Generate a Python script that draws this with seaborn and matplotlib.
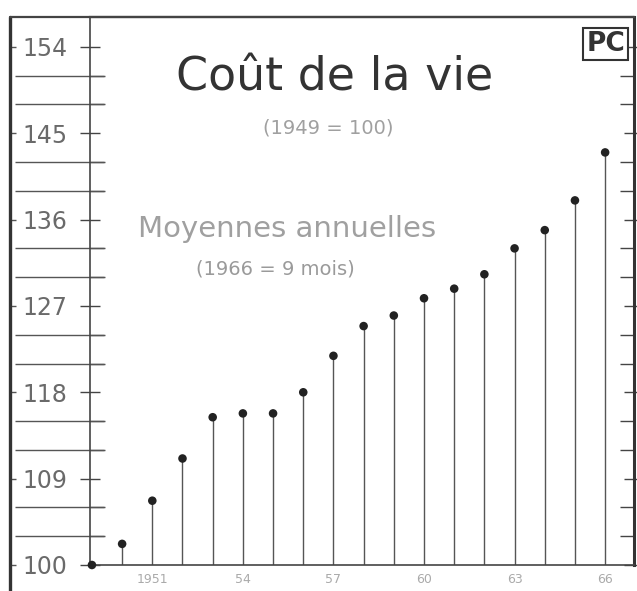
import numpy as np
import pandas as pd
import matplotlib.pyplot as plt
import seaborn as sns
from matplotlib.lines import Line2D

# data (1949 = 100)
years = list(range(1949, 1967))
values = [100, 102.2, 106.7, 111.1, 115.4, 115.8, 115.8, 118.0, 121.8,
          124.9, 126.0, 127.8, 128.8, 130.3, 133.0, 134.9, 138.0, 143.0]

y_major = [100, 109, 118, 127, 136, 145, 154]
y_minor = [v for v in range(100, 157, 3) if v not in y_major]
x_ticks = [1951, 1954, 1957, 1960, 1963, 1966]
x_labels = ["1951", "54", "57", "60", "63", "66"]

df = pd.DataFrame({"annee": years, "indice": values})

sns.set_theme(style="white")
plt.rcParams["font.family"] = ["DejaVu Sans"]

fig = plt.figure(figsize=(6.37, 5.91), dpi=100)
fig.patch.set_facecolor("white")
ax = fig.add_axes([0.141, 0.044, 0.854, 0.927])

# stems + dots
ax.vlines(df["annee"], 100, df["indice"], color="#555555", linewidth=1.0, zorder=2)
sns.scatterplot(data=df, x="annee", y="indice", color="#222222", s=38,
                edgecolor="none", ax=ax, zorder=4, legend=False, clip_on=False)

ax.set_xlim(1948.93, 1966.95)
ax.set_ylim(100, 157.1)

# axes look
for side in ["left", "bottom"]:
    ax.spines[side].set_color("#444444")
    ax.spines[side].set_linewidth(1.2)
ax.spines["right"].set_color("#333333")
ax.spines["right"].set_linewidth(2.2)
ax.spines["top"].set_color("#444444")
ax.spines["top"].set_linewidth(1.6)

ax.set_yticks(y_major)
ax.set_yticks(y_minor, minor=True)
ax.set_yticklabels([str(v) for v in y_major], fontsize=17, color="#6a6a6a")
ax.tick_params(axis="y", which="major", direction="inout", length=14, width=1,
               color="#444444", pad=9, left=True, right=True)
ax.tick_params(axis="y", which="minor", direction="in", length=10, width=1,
               color="#444444", left=True, right=True)

ax.set_xticks(x_ticks)
ax.set_xticklabels(x_labels, fontsize=9, color="#aaaaaa")
ax.tick_params(axis="x", which="major", length=0, pad=6)
ax.set_xlabel("")
ax.set_ylabel("")

# long minor marks across the left label panel
trans = ax.get_yaxis_transform()
ax.hlines(y_minor, -0.138, 0.028, transform=trans, color="#555555",
          linewidth=1.0, clip_on=False)
ax.hlines(y_major, -0.147, -0.136, transform=trans, color="#555555",
          linewidth=1.0, clip_on=False)

# outer frame of the left panel
fig.add_artist(Line2D([0.0157, 0.0157], [0.0, 0.971], color="#333333", linewidth=2.4))
fig.add_artist(Line2D([0.0157, 0.995], [0.971, 0.971], color="#444444", linewidth=1.6))

# texts
fig.text(0.526, 0.868, "Coût de la vie", fontsize=33, color="#333333",
         ha="center", va="center")
fig.text(0.515, 0.783, "(1949 = 100)", fontsize=14, color="#a0a0a0",
         ha="center", va="center")
fig.text(0.451, 0.612, "Moyennes annuelles", fontsize=21, color="#a0a0a0",
         ha="center", va="center")
fig.text(0.433, 0.545, "(1966 = 9 mois)", fontsize=14, color="#9a9a9a",
         ha="center", va="center")
fig.text(0.951, 0.926, "PC", fontsize=19, color="#333333", fontweight="bold",
         ha="center", va="center",
         bbox=dict(boxstyle="square,pad=0.12", facecolor="white",
                   edgecolor="#333333", linewidth=1.5))

fig.savefig("out.png", dpi=100, facecolor="white")
